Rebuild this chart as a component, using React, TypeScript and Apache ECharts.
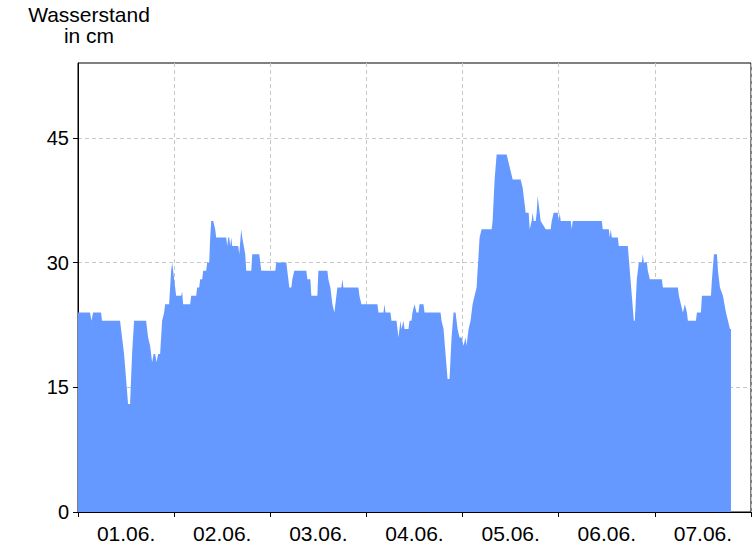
import React, { useEffect, useRef } from "react";
import * as echarts from "echarts";

const dayLabels = ["01.06.", "02.06.", "03.06.", "04.06.", "05.06.", "06.06.", "07.06."];
const yTicks = [0, 15, 30, 45];

// hours since 01.06. 00:00
const hours = [
  0, 3, 3.375, 3.75, 5.75, 6, 10.5, 11, 11.5, 12, 12.5, 13, 13.5, 14, 17, 17.5, 18, 18.5, 18.875, 19.25,
  19.625, 20, 20.5, 21, 21.5, 21.75, 22.75, 23.25, 23.5, 23.75, 24.25, 24.5, 25.75, 26, 26.25, 28, 28.25, 29.5,
  29.75, 30.25, 30.5, 31, 31.25, 32, 32.25, 32.75, 33, 33.25, 33.75, 34.25, 34.5, 37, 37.25, 37.5, 37.75, 38,
  38.25, 38.5, 40, 40.25, 40.75, 41, 41.75, 42, 43.25, 43.5, 45.25, 45.5, 45.75, 49.25, 49.5, 52, 52.25, 52.75,
  53.25, 53.5, 54, 57, 57.25, 58, 58.25, 59.75, 60, 62.25, 62.5, 63, 63.5, 64, 64.5, 64.75, 65.75, 66, 66.25,
  70, 70.25, 70.75, 74.75, 75, 76.25, 76.5, 76.75, 78, 78.25, 79.5, 79.75, 80, 80.5, 80.75, 81.25, 81.5, 82.5,
  82.75, 83.25, 83.5, 84, 84.5, 85, 85.25, 86.25, 86.5, 90.5, 90.75, 91.25, 91.75, 92.25, 92.75, 93.25, 93.75,
  94.25, 94.75, 95.25, 95.75, 96.25, 96.75, 97, 97.5, 98, 98.5, 99, 99.5, 99.75, 100.25, 100.75, 103.25, 103.5,
  104, 104.5, 107, 107.5, 108, 108.5, 110.5, 111, 111.5, 111.75, 112.5, 112.75, 113.25, 113.5, 113.75, 114.25,
  114.5, 114.75, 115.25, 115.5, 116.75, 118, 118.25, 118.75, 119.75, 120, 120.25, 120.5, 123, 123.25, 123.5,
  130.75, 131, 132.5, 132.75, 133, 133.25, 134.75, 135, 137.25, 137.75, 138.25, 138.75, 139, 139.5, 140, 140.75,
  141, 141.25, 142, 142.25, 142.75, 145.75, 146, 149.75, 150, 150.5, 151, 151.5, 152, 152.25, 154.25, 154.5,
  155.5, 155.75, 158, 158.25, 158.75, 159.5, 159.75, 160.25, 161, 161.75, 162.25, 162.75, 163,
];

// water level in cm
const levels = [
  24, 24, 23, 24, 24, 23, 23, 21, 19, 16, 13, 13, 19, 23, 23, 21, 20, 18, 19, 19,
  18, 19, 19, 23, 24, 25, 25, 29, 30, 29, 27, 26, 26, 26.5, 25, 25, 26, 26,
  27, 27, 28, 28, 29, 29, 30, 30, 33, 35, 35, 34, 33, 33, 32, 33, 33, 32,
  33, 32, 32, 31, 34, 33, 31, 29, 29, 31, 31, 30, 29, 29, 30, 30, 29, 27,
  27, 28, 29, 29, 28, 28, 26, 26, 29, 29, 28, 27, 25, 24, 26, 27, 27, 28, 27,
  27, 26, 25, 25, 24, 24, 25, 24, 24, 23, 23, 22, 21, 23, 22, 23, 22, 22,
  23, 23, 24, 25, 24, 24, 25, 25, 24, 24, 23, 22, 19, 16, 16, 21, 24,
  24, 22, 21, 21, 20, 21, 20, 22, 23, 25, 26, 27, 29, 33, 34, 34, 35,
  40, 43, 43, 42, 41, 40, 40, 39, 37, 36, 36, 34, 35, 36, 35, 35,
  36, 38, 36, 35, 34, 34, 35, 36, 36, 35, 36, 35, 35, 34, 35,
  35, 34, 34, 33, 34, 33, 33, 32, 32, 29, 26, 23, 23, 28, 30, 30,
  31, 30, 30, 29, 28, 28, 27, 27, 26, 25, 24, 25, 24, 23, 23, 24,
  24, 26, 26, 28, 31, 31, 29, 27, 26, 24, 23, 22, 22,
];

export default function App() {
  const ref = useRef<HTMLDivElement>(null);

  useEffect(() => {
    if (!ref.current) return;
    const chart = echarts.init(ref.current, null, { renderer: "svg" });
    const font = "'Liberation Sans', Arial, sans-serif";
    const gridColor = "#c8c8c8";
    chart.setOption({
      animation: false,
      backgroundColor: "#ffffff",
      grid: {
        left: 78,
        right: 5,
        top: 63,
        bottom: 34,
        show: true,
        borderColor: "#000",
        borderWidth: 1,
        backgroundColor: "transparent",
      },
      graphic: [
        {
          type: "text",
          x: 89,
          y: 4,
          style: {
            text: "Wasserstand\nin cm",
            font: `21px ${font}`,
            fill: "#000",
            align: "center",
            verticalAlign: "top",
            lineHeight: 21,
          },
        },
      ],
      xAxis: [
        {
          type: "value",
          min: 0,
          max: 168,
          interval: 24,
          axisLine: { show: true, lineStyle: { color: "#000", width: 1 } },
          axisTick: { show: true, length: 5, lineStyle: { color: "#000" } },
          axisLabel: { show: false },
          splitLine: { show: true, lineStyle: { color: gridColor, type: [4, 3], width: 1 } },
        },
        {
          type: "category",
          position: "bottom",
          data: dayLabels,
          boundaryGap: true,
          axisLine: { show: false },
          axisTick: { show: false },
          splitLine: { show: false },
          axisLabel: { color: "#000", fontSize: 21, fontFamily: font, margin: 11 },
        },
      ],
      yAxis: {
        type: "value",
        min: 0,
        max: 54,
        interval: 15,
        axisLine: { show: true, lineStyle: { color: "#000", width: 1 } },
        axisTick: { show: true, length: 5, lineStyle: { color: "#000" }, customValues: yTicks },
        axisLabel: { color: "#000", fontSize: 20, fontFamily: font, margin: 9, customValues: yTicks },
        splitLine: { show: true, lineStyle: { color: gridColor, type: [4, 3], width: 1 } },
      },
      series: [
        {
          type: "line",
          xAxisIndex: 0,
          data: hours.map((h, i) => [h, levels[i]]),
          showSymbol: false,
          symbol: "none",
          lineStyle: { width: 0, color: "#6699ff" },
          areaStyle: { color: "#6699ff", opacity: 1 },
          itemStyle: { color: "#6699ff" },
          z: 1,
        },
      ],
    });
    return () => chart.dispose();
  }, []);

  return <div ref={ref} style={{ width: 756, height: 546, position: "absolute", left: 0, top: 0 }} />;
}
